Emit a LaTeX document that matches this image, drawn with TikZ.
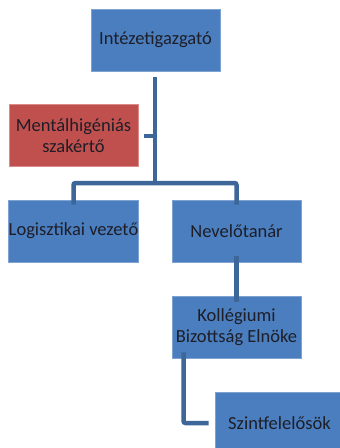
\documentclass[tikz,border=0pt]{standalone}
\usepackage{fontspec}
\setmainfont{Carlito}
\definecolor{boxblue}{HTML}{4A7EBE}
\definecolor{boxred}{HTML}{C0504D}
\definecolor{edgeblue}{HTML}{7EA3D3}
\definecolor{edgered}{HTML}{D98C8A}
\definecolor{linkblue}{HTML}{3D6699}
\definecolor{txt}{HTML}{1E1E28}
\begin{document}
\begin{tikzpicture}[x=1pt,y=-1pt,
  orgbox/.style={rectangle, fill=boxblue, draw=edgeblue, line width=0.8pt,
    minimum width=129pt, minimum height=62pt, inner sep=0pt, align=center,
    text=txt, font=\fontsize{18.5}{21.5}\selectfont},
  redbox/.style={orgbox, fill=boxred, draw=edgered},
  link/.style={draw=linkblue, line width=4.5pt, rounded corners=2pt}]
\useasboundingbox (0,0) rectangle (340,448);
\clip (0,0) rectangle (340,448);
\node[orgbox] (top) at (155.5,40) {Intézetigazgató};
\node[redbox] (ment) at (73.5,135.5) {Mentálhigéniás\\szakértő};
\node[orgbox] (log) at (73.5,231) {Logisztikai vezető};
\node[orgbox] (nev) at (236.5,231) {Nevelőtanár};
\node[orgbox] (kol) at (236.5,327) {Kollégiumi\\Bizottság Elnöke};
\node[orgbox] (szint) at (279.5,423) {Szintfelelősök};
\coordinate (bus) at (155,183);
\coordinate (topout) at (155,77);
\coordinate (mentin) at (155,136);
\draw[link] (topout) -- (bus);
\draw[link] ([xshift=6pt]ment.east |- mentin) -- (mentin);
\draw[link] ([yshift=-5pt]log.north) |- (bus) -| ([yshift=-5pt]nev.north);
\draw[link] ([yshift=6pt]nev.south) -- ([yshift=-6pt]kol.north);
\draw[link] ([xshift=-53pt,yshift=6pt]kol.south) |- ([xshift=-6pt]szint.west);
\end{tikzpicture}
\end{document}
